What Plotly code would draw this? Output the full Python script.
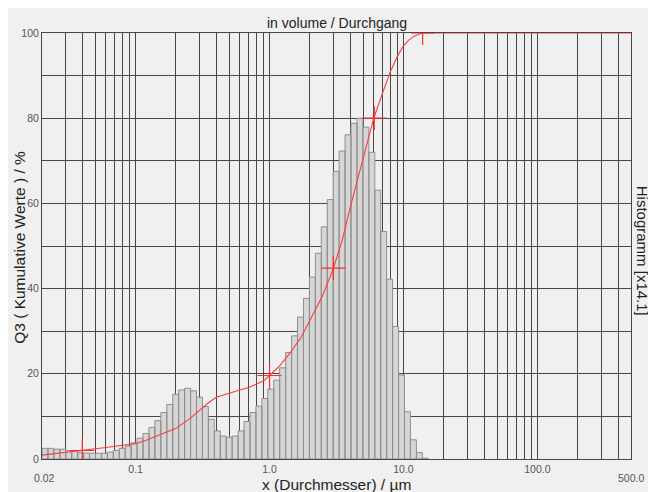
import numpy as np
import plotly.graph_objects as go

# ---------------- data ----------------
# histogram class edges (µm) and bar heights (displayed scale, histogram x14.1)
bin_edges_um = [0.02, 0.02215, 0.02453, 0.02717, 0.03010, 0.03333, 0.03692, 0.04089, 0.04529,
                0.05016, 0.05556, 0.06153, 0.06815, 0.07549, 0.08361, 0.09260, 0.1026, 0.1136,
                0.1258, 0.1393, 0.1543, 0.1709, 0.1893, 0.2097, 0.2322, 0.2572, 0.2849, 0.3155,
                0.3495, 0.3871, 0.4287, 0.4749, 0.5259, 0.5825, 0.6452, 0.7146, 0.7915, 0.8766,
                0.9709, 1.075, 1.191, 1.319, 1.461, 1.618, 1.792, 1.985, 2.199, 2.435, 2.697,
                2.987, 3.308, 3.664, 4.058, 4.495, 4.978, 5.514, 6.107, 6.764, 7.491, 8.297,
                9.190, 10.18, 11.27, 12.49, 13.83, 15.32]
hist_values = [2.5, 2.5, 2.3, 2.3, 2.0, 1.9, 1.5, 1.4, 1.35, 1.35, 1.35, 1.6, 2.0, 2.5, 3.0, 3.8, 4.9, 6.0,
               7.4, 9.0, 10.9, 12.8, 15.2, 16.2, 16.6, 16.0, 14.5, 12.3, 9.3, 6.6, 5.4, 5.1, 5.4, 6.6,
               8.8, 10.9, 12.4, 14.2,
               16.4, 18.5, 21.4, 25.0, 28.9, 33.3, 37.7, 42.7, 48.3, 54.5, 60.9, 67.5, 72.3, 76.1,
               78.8, 80.0, 77.9, 72.0, 63.1, 53.4, 42.2, 31.1, 19.7, 11.1, 4.5, 1.5, 0.2]

# cumulative curve Q3 (%)
q3_x = [0.02, 0.03, 0.04, 0.05, 0.06, 0.07, 0.08, 0.09, 0.1, 0.12, 0.15, 0.2, 0.25, 0.3, 0.35,
        0.4, 0.5, 0.6, 0.7, 0.8, 0.9, 1.0, 1.2, 1.4, 1.7, 2.0, 2.5, 3.0, 3.5, 4.0, 5.0, 6.0,
        7.0, 8.0, 9.0, 10.0, 11.0, 12.0, 13.0, 13.9, 20.0, 50.0, 100.0, 500.0]
q3_y = [0.9, 1.5, 2.0, 2.4, 2.7, 3.0, 3.2, 3.4, 3.6, 4.4, 5.7, 7.2, 9.3, 11.5, 13.2,
        14.5, 15.5, 16.2, 16.8, 17.5, 18.3, 19.6, 22.0, 24.6, 28.3, 32.5, 38.5, 44.8, 51.5, 59.0, 70.5, 80.0,
        86.0, 91.0, 94.5, 97.0, 98.4, 99.2, 99.7, 100.0, 100.0, 100.0, 100.0, 100.0]

# characteristic marks on the curve
mark_x = [0.04, 1.0, 3.0, 6.05, 13.9]
mark_y = [2.0, 19.6, 44.8, 80.0, 100.0]

# axis ticks
x_grid_vals = [0.02, 0.03, 0.04, 0.05, 0.06, 0.07, 0.08, 0.09,
               0.1, 0.2, 0.3, 0.4, 0.5, 0.6, 0.7, 0.8, 0.9,
               1, 2, 3, 4, 5, 6, 7, 8, 9,
               10, 20, 30, 40, 50, 60, 70, 80, 90,
               100, 200, 300, 400, 500]
x_tick_labels = {0.1: "0.1", 1: "1.0", 10: "10.0", 100: "100.0"}
x_end_labels = ["0.02", "500.0"]
y_grid_vals = [0, 10, 20, 30, 40, 50, 60, 70, 80, 90, 100]
y_tick_labels = ["0", "", "20", "", "40", "", "60", "", "80", "", "100"]

title_text = "in volume / Durchgang"
x_title = "x (Durchmesser) / µm"
y_title = "Q3 ( Kumulative Werte ) / %"
y2_title = "Histogramm [x14.1]"

# ---------------- figure ----------------
FONT = "Arial, Liberation Sans, sans-serif"
BG = "#f0f0f0"
GRID = "#474747"

bx, by = [], []
for i, h in enumerate(hist_values):
    a, b = bin_edges_um[i], bin_edges_um[i + 1]
    bx += [a, a, b, b, a, None]
    by += [0, h, h, 0, 0, None]

fig = go.Figure()
fig.add_trace(go.Scatter(x=bx, y=by, mode="lines", fill="toself",
                         fillcolor="#d6d6d6", line=dict(color="#8e8e8e", width=1),
                         hoverinfo="skip", showlegend=False, xaxis="x", yaxis="y"))
fig.add_trace(go.Scatter(x=q3_x, y=q3_y, mode="lines",
                         line=dict(color="#ff3b3b", width=1.1),
                         showlegend=False, xaxis="x2", yaxis="y2"))
fig.add_trace(go.Scatter(x=mark_x, y=mark_y, mode="markers",
                         marker=dict(symbol="cross-thin", size=17,
                                     line=dict(color="#ff2a2a", width=1.2)),
                         showlegend=False, xaxis="x2", yaxis="y2"))

xr = [np.log10(0.02), np.log10(500)]
ticktext = [x_tick_labels.get(v, "") for v in x_grid_vals]

# page body adds an 8px offset, so the figure is 8px smaller and margins shifted
fig.update_layout(
    width=648, height=484,
    margin=dict(l=34, r=25, t=25, b=33),
    paper_bgcolor=BG, plot_bgcolor=BG,
    font=dict(family=FONT, color="#222222"),
    xaxis=dict(type="log", range=xr, showgrid=False, zeroline=False,
               showticklabels=False, showline=False, ticks=""),
    yaxis=dict(range=[0, 100], showgrid=False, zeroline=False,
               showticklabels=False, showline=False, ticks=""),
    xaxis2=dict(type="log", range=xr, overlaying="x", anchor="y2", side="bottom",
                tickmode="array", tickvals=x_grid_vals, ticktext=ticktext,
                showgrid=True, gridcolor=GRID, gridwidth=1, zeroline=False,
                showline=True, mirror=True, linecolor=GRID, linewidth=1, ticks="",
                tickfont=dict(size=10.5, color="#555555", family=FONT)),
    yaxis2=dict(range=[0, 100], overlaying="y", anchor="x2", side="left",
                tickmode="array", tickvals=y_grid_vals, ticktext=y_tick_labels,
                showgrid=True, gridcolor=GRID, gridwidth=1, zeroline=False,
                showline=True, mirror=True, linecolor=GRID, linewidth=1, ticks="",
                tickfont=dict(size=10.5, color="#555555", family=FONT)),
)

ann = [
    dict(text=title_text, x=0.5, y=1.0246, xref="paper", yref="paper",
         xanchor="center", yanchor="middle", showarrow=False,
         font=dict(size=14, color="#222222", family=FONT)),
    dict(text=x_title, x=0.5, y=-0.0587, xref="paper", yref="paper",
         xanchor="center", yanchor="middle", showarrow=False,
         font=dict(size=15.5, color="#222222", family=FONT)),
    dict(text=y_title, x=-0.0374, y=0.498, xref="paper", yref="paper", textangle=-90,
         xanchor="center", yanchor="middle", showarrow=False,
         font=dict(size=15.5, color="#222222", family=FONT)),
    dict(text=y2_title, x=1.021, y=0.488, xref="paper", yref="paper", textangle=90,
         xanchor="center", yanchor="middle", showarrow=False,
         font=dict(size=15, color="#222222", family=FONT)),
    dict(text=x_end_labels[0], x=0.0045, y=-0.0446, xref="paper", yref="paper",
         xanchor="center", yanchor="middle", showarrow=False,
         font=dict(size=10.5, color="#555555", family=FONT)),
    dict(text=x_end_labels[1], x=1.0, y=-0.0446, xref="paper", yref="paper",
         xanchor="center", yanchor="middle", showarrow=False,
         font=dict(size=10.5, color="#555555", family=FONT)),
]
fig.update_layout(annotations=ann)

fig.write_html("out.html")
